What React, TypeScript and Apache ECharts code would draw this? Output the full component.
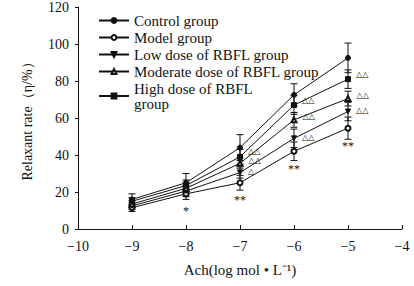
import React, { useEffect, useRef } from "react";
import * as echarts from "echarts";

// ---- data ----
const xValues = [-9, -8, -7, -6, -5];
const xTicks = [-10, -9, -8, -7, -6, -5, -4];

const seriesNames = [
  "Control group",
  "Model group",
  "Low dose of RBFL group",
  "Moderate dose of RBFL group",
  "High dose of RBFL\ngroup",
];

const controlValues = [16, 25, 44, 72.5, 92.5];
const modelValues = [11.5, 19, 25, 42, 54.5];
const lowValues = [12.5, 20.5, 30.5, 49, 63.5];
const moderateValues = [13.5, 22, 35.5, 59, 70.5];
const highValues = [15, 23.5, 39, 67, 81];

const controlErrors = [3, 5, 7, 6, 8];
const modelErrors = [2, 3, 4, 5, 6];
const lowErrors = [2, 3, 3, 5, 5];
const moderateErrors = [2, 3, 3, 4, 4];
const highErrors = [2, 3, 4, 5, 5];

const controlMarks = ["", "", "", "", ""];
const modelMarks = ["", "*", "**", "**", "**"];
const lowMarks = ["", "", "△", "△△", "△△"];
const moderateMarks = ["", "", "△△", "△△", "△△"];
const highMarks = ["", "", "△△", "△△", "△△"];

const FONT = "Liberation Serif";
const INK = "#111";

function buildLine(
  name: string,
  values: number[],
  symbol: string,
  marks: string[],
  markKind: "tri" | "star",
  labelLift = 0
) {
  return {
    name,
    type: "line",
    symbol,
    symbolSize: 5,
    showAllSymbol: true,
    z: 3,
    itemStyle: { color: INK, borderColor: INK, borderWidth: 1 },
    lineStyle: { color: INK, width: 1 },
    data: xValues.map((x, i) => {
      const m = marks[i];
      const item: any = { value: [x, values[i]] };
      if (m) {
        item.label =
          markKind === "tri"
            ? {
                show: true,
                formatter: m,
                position: "right",
                distance: 5,
                offset: [0, -labelLift],
                fontSize: 8,
                lineHeight: 7,
                color: INK,
                fontFamily: "DejaVu Sans",
              }
            : {
                show: true,
                formatter: m,
                position: "bottom",
                distance: 9,
                fontSize: 12,
                lineHeight: 10,
                color: INK,
                fontFamily: FONT,
              };
      }
      return item;
    }),
  };
}

function buildErrors(values: number[], errors: number[]) {
  return {
    type: "custom",
    silent: true,
    z: 2,
    data: xValues.map((x, i) => [x, values[i] - errors[i], values[i] + errors[i]]),
    encode: { x: 0, y: [1, 2] },
    renderItem: (params: any, api: any) => {
      const lo = api.coord([api.value(0), api.value(1)]);
      const hi = api.coord([api.value(0), api.value(2)]);
      const w = 3.5;
      const style = { stroke: INK, lineWidth: 1 };
      return {
        type: "group",
        children: [
          { type: "line", shape: { x1: hi[0], y1: hi[1], x2: lo[0], y2: lo[1] }, style },
          { type: "line", shape: { x1: hi[0] - w, y1: hi[1], x2: hi[0] + w, y2: hi[1] }, style },
          { type: "line", shape: { x1: lo[0] - w, y1: lo[1], x2: lo[0] + w, y2: lo[1] }, style },
        ],
      };
    },
  };
}

const fmtMinus = (v: number) => String(v).replace("-", "\u2212");

export default function App() {
  const ref = useRef<HTMLDivElement>(null);

  useEffect(() => {
    if (!ref.current) return;
    const chart = echarts.init(ref.current, undefined, { renderer: "svg" });
    chart.setOption({
      animation: false,
      backgroundColor: "#fff",
      textStyle: { fontFamily: FONT, color: INK },
      grid: { left: 78, right: 12, top: 6, bottom: 57, containLabel: false },
      legend: {
        data: seriesNames,
        orient: "vertical",
        left: 93,
        top: 8,
        itemWidth: 30,
        itemHeight: 6,
        itemGap: 2,
        textStyle: { fontFamily: FONT, fontSize: 15, color: INK, lineHeight: 15 },
      },
      xAxis: {
        type: "value",
        min: xTicks[0],
        max: xTicks[xTicks.length - 1],
        interval: 1,
        name: "Ach(log mol \u2022 L\u207B\u00B9)",
        nameLocation: "middle",
        nameGap: 33,
        nameTextStyle: { fontFamily: FONT, fontSize: 15, color: INK },
        axisLine: { lineStyle: { color: INK, width: 1 } },
        axisTick: { inside: true, length: 4, lineStyle: { color: INK } },
        axisLabel: {
          formatter: fmtMinus,
          fontFamily: FONT,
          fontSize: 14,
          color: INK,
          margin: 10,
        },
        splitLine: { show: false },
      },
      yAxis: {
        type: "value",
        min: 0,
        max: 120,
        interval: 20,
        name: "Relaxant rate\uFF08\u03B7/%\uFF09",
        nameLocation: "middle",
        nameGap: 44,
        nameTextStyle: { fontFamily: FONT, fontSize: 14, color: INK },
        axisLine: { show: true, lineStyle: { color: INK, width: 1 } },
        axisTick: { show: true, inside: false, length: 3, lineStyle: { color: INK } },
        axisLabel: { fontFamily: FONT, fontSize: 14, color: INK, margin: 9 },
        splitLine: { show: false },
      },
      series: [
        buildErrors(controlValues, controlErrors),
        buildErrors(modelValues, modelErrors),
        buildErrors(lowValues, lowErrors),
        buildErrors(moderateValues, moderateErrors),
        buildErrors(highValues, highErrors),
        buildLine(seriesNames[0], controlValues, "circle", controlMarks, "tri"),
        buildLine(seriesNames[1], modelValues, "emptyCircle", modelMarks, "star"),
        buildLine(seriesNames[2], lowValues, "path://M0,0 L10,0 L5,9 Z", lowMarks, "tri", 1),
        buildLine(seriesNames[3], moderateValues, "emptyTriangle", moderateMarks, "tri", 3),
        buildLine(seriesNames[4], highValues, "rect", highMarks, "tri", 5),
      ],
    });
    return () => chart.dispose();
  }, []);

  return (
    <div
      ref={ref}
      style={{ position: "absolute", left: 0, top: 0, width: 414, height: 286 }}
    />
  );
}
